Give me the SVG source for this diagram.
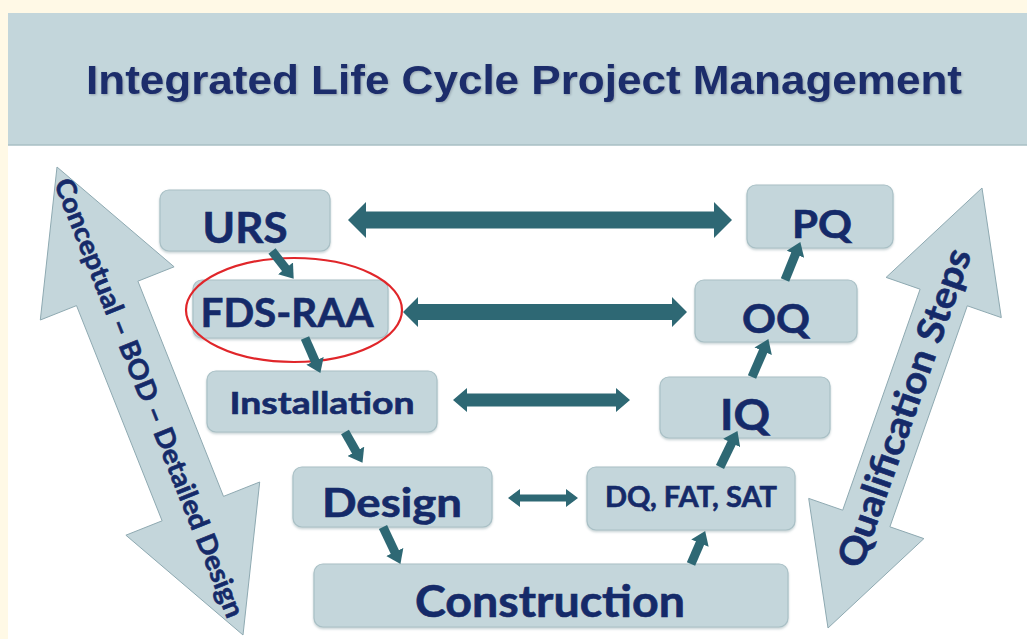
<svg xmlns="http://www.w3.org/2000/svg" width="1027" height="639" viewBox="0 0 1027 639">
  <defs>
    <style>
      .box { fill: #c4d6db; stroke: #a9c0c6; stroke-width: 1.2; }
      .label { font-family: Lato, "Open Sans", "Liberation Sans", sans-serif; font-weight: bold; fill: #152a69; stroke: #152a69; stroke-width: 0.6; text-anchor: middle; }
      .side { fill: #c4d6db; stroke: #8ea9b1; stroke-width: 1; }
      .flow { fill: #2e6874; }
      .step { stroke: #2e6874; stroke-width: 9; fill: none; marker-end: url(#head); }
      .title { font-family: "Liberation Sans", Arial, sans-serif; font-weight: bold; fill: #1c2d6b; text-anchor: middle; }
    </style>
    <marker id="head" viewBox="0 0 7 10" refX="1" refY="5" markerWidth="1.5" markerHeight="2.1" orient="auto" markerUnits="strokeWidth">
      <path d="M0,0 L7,5 L0,10 z" fill="#2e6874"/>
    </marker>
    <filter id="soft" x="-5%" y="-5%" width="110%" height="120%">
      <feDropShadow dx="0" dy="1.5" stdDeviation="1.2" flood-color="#7d969c" flood-opacity="0.45"/>
    </filter>
  </defs>

  <!-- page background and title band -->
  <rect x="0" y="0" width="1027" height="639" fill="#fff9e6"/>
  <rect x="8" y="145" width="1019" height="494" fill="#ffffff"/>
  <rect x="8" y="13" width="1019" height="132" fill="#c3d6db"/>
  <line x1="8" y1="145" x2="1027" y2="145" stroke="#a9bfc5" stroke-width="1.5"/>
  <text class="title" x="524" y="94" font-size="41" textLength="876" lengthAdjust="spacingAndGlyphs" style="filter: drop-shadow(1px 1.5px 1px rgba(60,70,90,0.35));">Integrated Life Cycle Project Management</text>

  <!-- side arrows -->
  <g id="design-axis">
    <polygon class="side" points="57,167 174.1,266.8 137.9,281.2 223.5,496.4 259.7,482 243,635 125.9,535.2 162.1,520.8 76.5,305.6 40.3,320"/>
    <text class="label" transform="translate(149,398) rotate(68.3)" dy="9" font-size="27" textLength="470" lengthAdjust="spacingAndGlyphs">Conceptual – BOD – Detailed Design</text>
  </g>
  <g id="qualification-axis">
    <polygon class="side" points="828,628 923.9,538.6 889.9,526.8 967.3,305.8 1001.3,317.6 982,188 886.1,277.4 920.1,289.2 842.7,510.2 808.7,498.4"/>
    <text class="label" transform="translate(905,408) rotate(-70.7)" dy="12" font-size="37" textLength="335" lengthAdjust="spacingAndGlyphs">Qualification Steps</text>
  </g>

  <!-- nodes -->
  <g id="urs">
    <rect class="box" x="160" y="190" width="170" height="61" rx="9" filter="url(#soft)"/>
    <text class="label" x="245" y="243" font-size="42" textLength="85" lengthAdjust="spacingAndGlyphs">URS</text>
  </g>
  <g id="fds-raa">
    <rect class="box" x="193" y="280" width="195" height="58" rx="9" filter="url(#soft)"/>
    <text class="label" x="287" y="327" font-size="41" textLength="173" lengthAdjust="spacingAndGlyphs">FDS-RAA</text>
    <ellipse cx="294" cy="310" rx="108" ry="52" fill="none" stroke="#e0262a" stroke-width="2.2"/>
  </g>
  <g id="installation">
    <rect class="box" x="207" y="371" width="230" height="61" rx="9" filter="url(#soft)"/>
    <text class="label" x="322" y="414" font-size="30" textLength="185" lengthAdjust="spacingAndGlyphs">Installation</text>
  </g>
  <g id="design">
    <rect class="box" x="293" y="467" width="199" height="60" rx="9" filter="url(#soft)"/>
    <text class="label" x="392" y="517" font-size="40" textLength="140" lengthAdjust="spacingAndGlyphs">Design</text>
  </g>
  <g id="construction">
    <rect class="box" x="314" y="564" width="474" height="63" rx="9" filter="url(#soft)"/>
    <text class="label" x="550" y="617" font-size="43" textLength="270" lengthAdjust="spacingAndGlyphs">Construction</text>
  </g>
  <g id="dq-fat-sat">
    <rect class="box" x="587" y="467" width="208" height="63" rx="9" filter="url(#soft)"/>
    <text class="label" x="691" y="507" font-size="29" textLength="172" lengthAdjust="spacingAndGlyphs">DQ, FAT, SAT</text>
  </g>
  <g id="iq">
    <rect class="box" x="660" y="377" width="170" height="61" rx="9" filter="url(#soft)"/>
    <text class="label" x="745" y="430" font-size="42" textLength="50" lengthAdjust="spacingAndGlyphs">IQ</text>
  </g>
  <g id="oq">
    <rect class="box" x="695" y="280" width="162" height="62" rx="9" filter="url(#soft)"/>
    <text class="label" x="776" y="333" font-size="40" textLength="68" lengthAdjust="spacingAndGlyphs">OQ</text>
  </g>
  <g id="pq">
    <rect class="box" x="747" y="185" width="146" height="63" rx="9" filter="url(#soft)"/>
    <text class="label" x="822" y="238" font-size="38" textLength="60" lengthAdjust="spacingAndGlyphs">PQ</text>
  </g>

  <!-- connectors -->
  <g id="connectors">
    <!-- cross links between specification and qualification -->
    <polygon class="flow" points="348,220 366,202 366,211.5 714,211.5 714,202 732,220 714,238 714,228.5 366,228.5 366,238"/>
    <polygon class="flow" points="403,312 418,297 418,304 672,304 672,297 687,312 672,327 672,320 418,320 418,327"/>
    <polygon class="flow" points="453,400 467,388 467,393.5 616,393.5 616,388 630,400 616,412 616,406.5 467,406.5 467,412"/>
    <polygon class="flow" points="508,498 520,489 520,494.5 566,494.5 566,489 578,498 566,507 566,501.5 520,501.5 520,507"/>
    <!-- step arrows down the left leg and up the right leg -->
    <line class="step" x1="272" y1="251" x2="286.7" y2="269.8"/>
    <line class="step" x1="305" y1="338" x2="315.8" y2="362.6"/>
    <line class="step" x1="345" y1="432" x2="356.9" y2="453"/>
    <line class="step" x1="383" y1="527" x2="395.6" y2="553.7"/>
    <line class="step" x1="691" y1="564" x2="700.7" y2="541.4"/>
    <line class="step" x1="720" y1="467" x2="732.5" y2="441.3"/>
    <line class="step" x1="752" y1="377" x2="763.9" y2="349.5"/>
    <line class="step" x1="785" y1="280" x2="796.1" y2="252.5"/>
  </g>
</svg>
